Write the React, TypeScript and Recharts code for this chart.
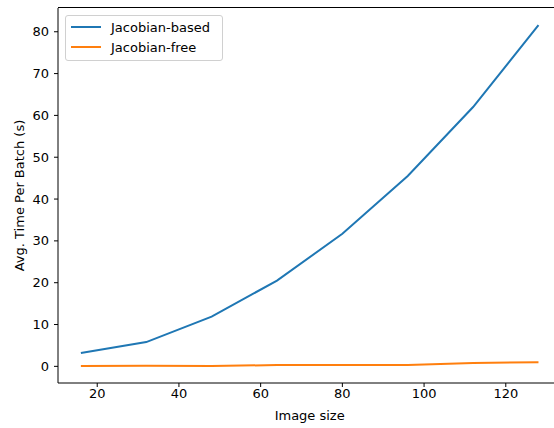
import { LineChart, Line, XAxis, YAxis } from "recharts";

// image sizes and average time per batch (s)
const imageSizes = [16, 32, 48, 64, 80, 96, 112, 128];
const jacobianBased = [3.2, 5.8, 11.9, 20.5, 31.7, 45.5, 62.0, 81.6];
const jacobianFree = [0.1, 0.15, 0.1, 0.3, 0.35, 0.35, 0.8, 1.0];
const xTicks = [20, 40, 60, 80, 100, 120];
const yTicks = [0, 10, 20, 30, 40, 50, 60, 70, 80];

const seriesNames = ["Jacobian-based", "Jacobian-free"];
const seriesColors = ["#1f77b4", "#ff7f0e"];

const data = imageSizes.map((size, i) => ({
  size,
  based: jacobianBased[i],
  free: jacobianFree[i],
}));

const font = "'DejaVu Sans', sans-serif";
const chartMargin = { top: 8, right: 0, left: 0, bottom: 0 };
const yAxisWidth = 58;
// visible part of the x range (the original figure is cut at the right)
const xMin = 10.4;
const xMax = 131.8;
const xLabelAt = 72; // centre of the full axis, where matplotlib puts the label

function MplLegend() {
  return (
    <div
      style={{
        position: "absolute",
        left: 65,
        top: 15,
        width: 158,
        height: 46,
        border: "1px solid #d0d0d0",
        borderRadius: 3,
        background: "rgba(255,255,255,0.8)",
        fontFamily: font,
        fontSize: 13,
        color: "#000",
        boxSizing: "border-box",
      }}
    >
      {seriesNames.map((name, i) => (
        <div
          key={name}
          style={{
            position: "absolute",
            left: 5,
            top: 3 + i * 20,
            height: 16,
            display: "flex",
            alignItems: "center",
            whiteSpace: "nowrap",
          }}
        >
          <span
            style={{
              display: "inline-block",
              width: 30,
              height: 2,
              background: seriesColors[i],
              marginRight: 10,
            }}
          />
          <span>{name}</span>
        </div>
      ))}
    </div>
  );
}

export default function App() {
  const tick = { fontSize: 13, fill: "#000", fontFamily: font };
  return (
    <div
      style={{
        position: "absolute",
        left: 0,
        top: 0,
        width: 554,
        height: 428,
        overflow: "hidden",
        background: "#fff",
      }}
    >
      <LineChart width={554} height={428} data={data} margin={chartMargin}>
        <XAxis
          dataKey="size"
          type="number"
          domain={[xMin, xMax]}
          ticks={xTicks}
          allowDataOverflow
          height={45}
          stroke="#000"
          tickSize={4}
          tickMargin={2}
          tick={tick}
          tickLine={{ stroke: "#000" }}
          label={(props: any) => {
            const vb = props.viewBox;
            const cx = vb.x + (vb.width * (xLabelAt - xMin)) / (xMax - xMin);
            return (
              <text
                x={cx}
                y={vb.y + 37}
                textAnchor="middle"
                fontSize={13}
                fontFamily={font}
                fill="#000"
              >
                Image size
              </text>
            );
          }}
        />
        <YAxis
          type="number"
          domain={[-3.98, 85.68]}
          ticks={yTicks}
          allowDataOverflow
          width={yAxisWidth}
          stroke="#000"
          tickSize={4}
          tickMargin={5}
          tick={tick}
          tickLine={{ stroke: "#000" }}
          label={(props: any) => {
            const vb = props.viewBox;
            const cx = vb.x + 19;
            const cy = vb.y + vb.height / 2;
            return (
              <text
                x={cx}
                y={cy}
                transform={`rotate(-90, ${cx}, ${cy})`}
                textAnchor="middle"
                dominantBaseline="central"
                fontSize={13}
                fontFamily={font}
                fill="#000"
              >
                Avg. Time Per Batch (s)
              </text>
            );
          }}
        />
        <Line
          dataKey="based"
          name={seriesNames[0]}
          stroke={seriesColors[0]}
          strokeWidth={2}
          dot={false}
          type="linear"
          isAnimationActive={false}
        />
        <Line
          dataKey="free"
          name={seriesNames[1]}
          stroke={seriesColors[1]}
          strokeWidth={2}
          dot={false}
          type="linear"
          isAnimationActive={false}
        />
      </LineChart>
      {/* top spine */}
      <div
        style={{
          position: "absolute",
          left: yAxisWidth,
          top: chartMargin.top - 1,
          right: 0,
          height: 1,
          background: "#000",
        }}
      />
      <MplLegend />
    </div>
  );
}
